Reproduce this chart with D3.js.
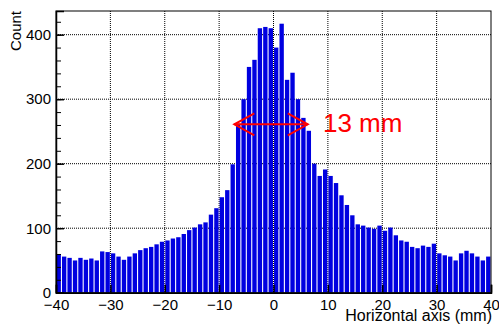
<!DOCTYPE html>
<html>
<head>
<meta charset="utf-8">
<script src="https://cdn.jsdelivr.net/npm/d3@7"></script>
<style>
  html, body { margin: 0; padding: 0; background: #fff; }
  svg { display: block; font-family: "Liberation Sans", Arial, Helvetica, sans-serif; }
</style>
</head>
<body>
<div id="chart"></div>
<script>
// histogram: 80 bins of 1 mm, from -40 to 40
const binLow = d3.range(-40, 40, 1);
const counts = [
  60, 56, 54, 50, 54, 51, 53, 50, 64, 63,
  61, 56, 51, 56, 61, 66, 69, 71, 75, 79,
  81, 84, 86, 91, 97, 101, 106, 109, 121, 131,
  148, 159, 199, 262, 300, 350, 361, 410, 412, 410,
  380, 417, 330, 341, 300, 271, 251, 200, 181, 191,
  181, 170, 151, 136, 120, 106, 104, 101, 99, 104,
  96, 101, 89, 81, 79, 71, 69, 73, 71, 76,
  61, 58, 56, 50, 61, 65, 61, 56, 50, 56
];
const xTicks = [-40, -30, -20, -10, 0, 10, 20, 30, 40];
const yTicks = [0, 100, 200, 300, 400];
const yMinorTicks = d3.range(0, 437, 20);
const xDomain = [-40, 40];
const yDomain = [0, 436.7];

// FWHM annotation
const arrowFrom = -7.2, arrowTo = 6.3, arrowLevel = 261;
const noteText = "13 mm", noteX = 9.1, noteY = 249;

const width = 499, height = 324;
const margin = { top: 11, right: 8, bottom: 31.3, left: 56 };
const innerWidth = width - margin.left - margin.right;
const innerHeight = height - margin.top - margin.bottom;

const svg = d3.select("#chart").append("svg")
  .attr("width", width)
  .attr("height", height);

const g = svg.append("g")
  .attr("transform", `translate(${margin.left},${margin.top})`);

const x = d3.scaleLinear().domain(xDomain).range([0, innerWidth]);
const y = d3.scaleLinear().domain(yDomain).range([innerHeight, 0]);

// --- grid (dotted) ---
g.append("g").selectAll("line")
  .data(xTicks.filter(d => d > xDomain[0] && d < xDomain[1]))
  .join("line")
  .attr("x1", d => x(d)).attr("x2", d => x(d))
  .attr("y1", 0).attr("y2", innerHeight)
  .attr("stroke", "#000").attr("stroke-width", 1)
  .attr("stroke-dasharray", "1,1");

g.append("g").selectAll("line")
  .data(yTicks.filter(d => d > 0))
  .join("line")
  .attr("x1", 0).attr("x2", innerWidth)
  .attr("y1", d => y(d)).attr("y2", d => y(d))
  .attr("stroke", "#000").attr("stroke-width", 1)
  .attr("stroke-dasharray", "1,1");

// --- bars ---
const binW = x(1) - x(0);
g.selectAll(".bar")
  .data(binLow)
  .join("rect")
  .attr("class", "bar")
  .attr("x", d => x(d) + binW * 0.1)
  .attr("width", binW * 0.8)
  .attr("y", (d, i) => y(counts[i]))
  .attr("height", (d, i) => innerHeight - y(counts[i]))
  .attr("fill", "#0000e0");

// --- frame ---
g.append("rect")
  .attr("x", 0).attr("y", 0)
  .attr("width", innerWidth).attr("height", innerHeight)
  .attr("fill", "none").attr("stroke", "#000").attr("stroke-width", 1);

// --- axes ---
const fontSize = 15;

g.append("g")
  .attr("transform", `translate(0,${innerHeight})`)
  .call(d3.axisBottom(x).tickValues(xTicks).tickSize(-8).tickPadding(7))
  .call(a => a.select(".domain").attr("stroke-width", 1.5))
  .call(a => a.selectAll(".tick line").attr("stroke-width", 1.5))
  .call(a => a.selectAll(".tick text").attr("font-size", fontSize).attr("font-family", null).attr("fill", "#000"));

g.append("g")
  .call(d3.axisLeft(y).tickValues(yMinorTicks).tickSize(-5).tickFormat(""))
  .call(a => a.select(".domain").remove())
  .call(a => a.selectAll(".tick line").attr("stroke-width", 1));

g.append("g")
  .call(d3.axisLeft(y).tickValues(yTicks).tickSize(-8).tickPadding(5))
  .call(a => a.select(".domain").attr("stroke-width", 1.5))
  .call(a => a.selectAll(".tick line").attr("stroke-width", 1.5))
  .call(a => a.selectAll(".tick text").attr("font-size", fontSize).attr("font-family", null).attr("fill", "#000"));

// axis titles
g.append("text")
  .attr("x", innerWidth + 1)
  .attr("y", innerHeight + 28.5)
  .attr("text-anchor", "end")
  .attr("font-size", 16)
  .text("Horizontal axis (mm)");

g.append("text")
  .attr("transform", "rotate(-90)")
  .attr("x", 0)
  .attr("y", -35)
  .attr("text-anchor", "end")
  .attr("font-size", fontSize)
  .text("Count");

// --- annotation ---
const red = "#ff0000";
const ax1 = x(arrowFrom), ax2 = x(arrowTo), ay = y(arrowLevel);
const head = 20, spread = 11;
const ann = g.append("g").attr("stroke", red).attr("stroke-width", 2).attr("fill", "none");
ann.append("line").attr("x1", ax1).attr("x2", ax2).attr("y1", ay).attr("y2", ay);
ann.append("path").attr("d", `M${ax1 + head},${ay - spread}L${ax1},${ay}L${ax1 + head},${ay + spread}`);
ann.append("path").attr("d", `M${ax2 - head},${ay - spread}L${ax2},${ay}L${ax2 - head},${ay + spread}`);

g.append("text")
  .attr("x", x(noteX))
  .attr("y", y(noteY))
  .attr("font-size", 26)
  .attr("fill", red)
  .text(noteText);
</script>
</body>
</html>
